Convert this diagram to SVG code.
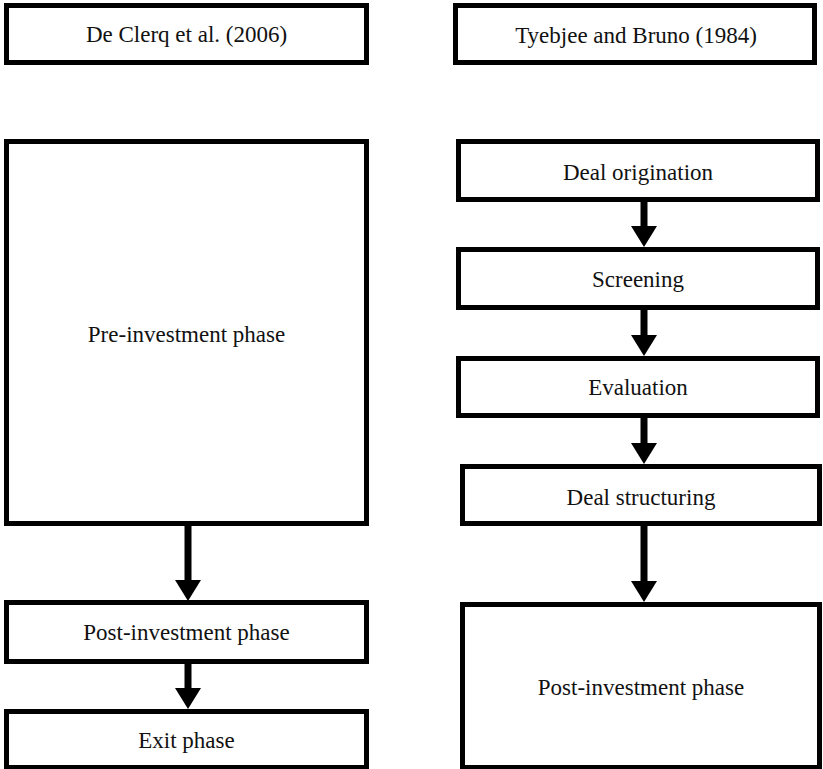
<svg xmlns="http://www.w3.org/2000/svg" width="823" height="769" viewBox="0 0 823 769" font-family="Liberation Serif, DejaVu Serif, serif">
<style>
.box{fill:#fff;stroke:#000;stroke-width:5}
.lbl{font-family:'Liberation Serif','DejaVu Serif',serif;font-size:23px;fill:#111;text-anchor:middle}
.conn{stroke:#000;stroke-width:7;fill:none}
</style>
<defs>
<marker id="ah" viewBox="0 0 21 26" markerWidth="21" markerHeight="26" markerUnits="userSpaceOnUse" refX="0" refY="13" orient="auto">
<path d="M0,0 L21,13 L0,26 z" fill="#000"/>
</marker>
</defs>
<rect width="823" height="769" fill="#fff"/>
<g id="connectors">
<line class="conn" x1="188" y1="526" x2="188" y2="580" marker-end="url(#ah)"/>
<line class="conn" x1="188" y1="664" x2="188" y2="688" marker-end="url(#ah)"/>
<line class="conn" x1="644" y1="202" x2="644" y2="226" marker-end="url(#ah)"/>
<line class="conn" x1="644" y1="310" x2="644" y2="335" marker-end="url(#ah)"/>
<line class="conn" x1="644" y1="418" x2="644" y2="443" marker-end="url(#ah)"/>
<line class="conn" x1="644" y1="526" x2="644" y2="581" marker-end="url(#ah)"/>
</g>
<g id="declerq">
<rect class="box" x="6.5" y="5.5" width="360" height="57"/>
<text class="lbl" x="186.5" y="42">De Clerq et al. (2006)</text>
</g>
<g id="pre-investment">
<rect class="box" x="6.5" y="141.5" width="360" height="382"/>
<text class="lbl" x="186.5" y="342">Pre-investment phase</text>
</g>
<g id="post-investment-left">
<rect class="box" x="6.5" y="602.5" width="360" height="59"/>
<text class="lbl" x="186.5" y="640">Post-investment phase</text>
</g>
<g id="exit">
<rect class="box" x="6.5" y="711.5" width="360" height="56"/>
<text class="lbl" x="186.5" y="748">Exit phase</text>
</g>
<g id="tyebjee">
<rect class="box" x="455.5" y="5.5" width="359" height="57"/>
<text class="lbl" x="636" y="43">Tyebjee and Bruno (1984)</text>
</g>
<g id="deal-origination">
<rect class="box" x="458.5" y="141.5" width="359" height="58"/>
<text class="lbl" x="638" y="180">Deal origination</text>
</g>
<g id="screening">
<rect class="box" x="458.5" y="249.5" width="359" height="58"/>
<text class="lbl" x="638" y="287">Screening</text>
</g>
<g id="evaluation">
<rect class="box" x="458.5" y="358.5" width="359" height="57"/>
<text class="lbl" x="638" y="395">Evaluation</text>
</g>
<g id="deal-structuring">
<rect class="box" x="462.5" y="466.5" width="357" height="57"/>
<text class="lbl" x="641" y="505">Deal structuring</text>
</g>
<g id="post-investment-right">
<rect class="box" x="462.5" y="604.5" width="357" height="163"/>
<text class="lbl" x="641" y="695">Post-investment phase</text>
</g>
</svg>
